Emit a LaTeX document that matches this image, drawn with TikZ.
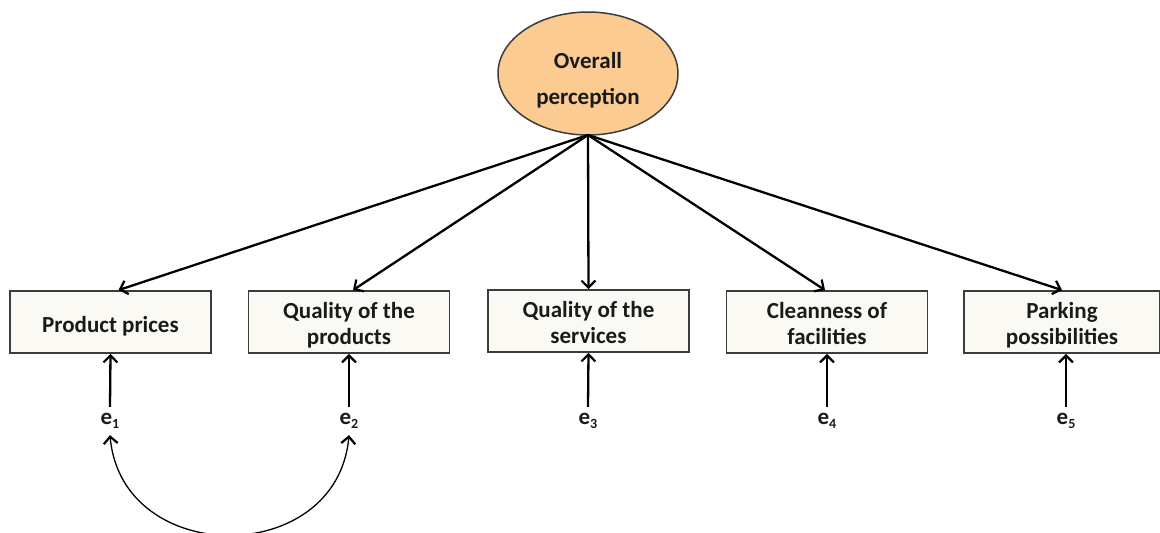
\documentclass[tikz,border=0pt]{standalone}
\usepackage{fontspec}
\setmainfont{Carlito}
\usetikzlibrary{shapes.geometric,arrows.meta}
\definecolor{peach}{HTML}{FBCB92}
\definecolor{boxfill}{HTML}{FAF9F4}
\definecolor{edge}{HTML}{3C3C3C}
\definecolor{txt}{HTML}{1A1A1A}
\newcommand{\esub}[1]{e\raisebox{-0.4ex}{\fontsize{14}{14}\selectfont #1}}
\newcommand{\btext}[2][-4.5pt]{\raisebox{#1}[\height][\depth]{\begin{tabular}{@{}c@{}}#2\end{tabular}}}
\begin{document}
\begin{tikzpicture}[x=1pt,y=-1pt,
  every node/.style={font=\fontsize{23}{26}\selectfont\bfseries, text=txt},
  latent/.style={ellipse, draw=edge, line width=1.5pt, fill=peach, minimum width=180pt, minimum height=123pt, inner sep=0pt, align=center},
  obs/.style={rectangle, draw=edge, line width=1.8pt, fill=boxfill, minimum width=201pt, minimum height=62pt, inner sep=0pt, align=center},
  errlab/.style={inner sep=0pt, font=\fontsize{23}{26}\selectfont\bfseries},
  arr/.style={line width=2.3pt, -{Straight Barb[length=7pt,width=14pt,line width=2.2pt]}},
  cov/.style={line width=1.3pt, {Straight Barb[length=7pt,width=14pt,line width=2.2pt]}-{Straight Barb[length=7pt,width=14pt,line width=2.2pt]}}
]
\useasboundingbox (0,0) rectangle (1160,533);
\node[latent] (op) at (588,73.5) {\btext[-8pt]{Overall\\[10pt]perception}};
\node[obs] (b1) at (110.5,322) {\btext[-5pt]{Product prices}};
\node[obs] (b2) at (349,322) {\btext{Quality of the\\products}};
\node[obs] (b3) at (588.5,321) {\btext{Quality of the\\services}};
\node[obs] (b4) at (827,322) {\btext{Cleanness of\\facilities}};
\node[obs,minimum width=196pt] (b5) at (1062,322) {\btext{Parking\\possibilities}};
\node[errlab] (e1) at (110,421) {\esub{1}};
\node[errlab] (e2) at (349,421) {\esub{2}};
\node[errlab] (e3) at (588,421) {\esub{3}};
\node[errlab] (e4) at (827,421) {\esub{4}};
\node[errlab] (e5) at (1066,421) {\esub{5}};
\coordinate (src) at (588,135);
\draw[arr] (src) -- ([xshift=8pt]b1.north);
\draw[arr] (src) -- ([xshift=4pt]b2.north);
\draw[arr] (src) -- (b3.north);
\draw[arr] (src) -- ([xshift=-2pt]b4.north);
\draw[arr] (src) -- ([xshift=0pt]b5.north);
\draw[arr] ([yshift=6pt]e1.north) -- (b1.south);
\draw[arr] ([yshift=6pt]e2.north) -- (b2.south);
\draw[arr] ([yshift=6pt]e3.north) -- (b3.south);
\draw[arr] ([yshift=6pt]e4.north) -- (b4.south);
\draw[arr] ([yshift=6pt]e5.north) -- ([xshift=4pt]b5.south);
\draw[cov] ([yshift=-6pt]e1.south) .. controls (122,568) and (337,568) .. ([yshift=-6pt]e2.south);
\end{tikzpicture}
\end{document}
